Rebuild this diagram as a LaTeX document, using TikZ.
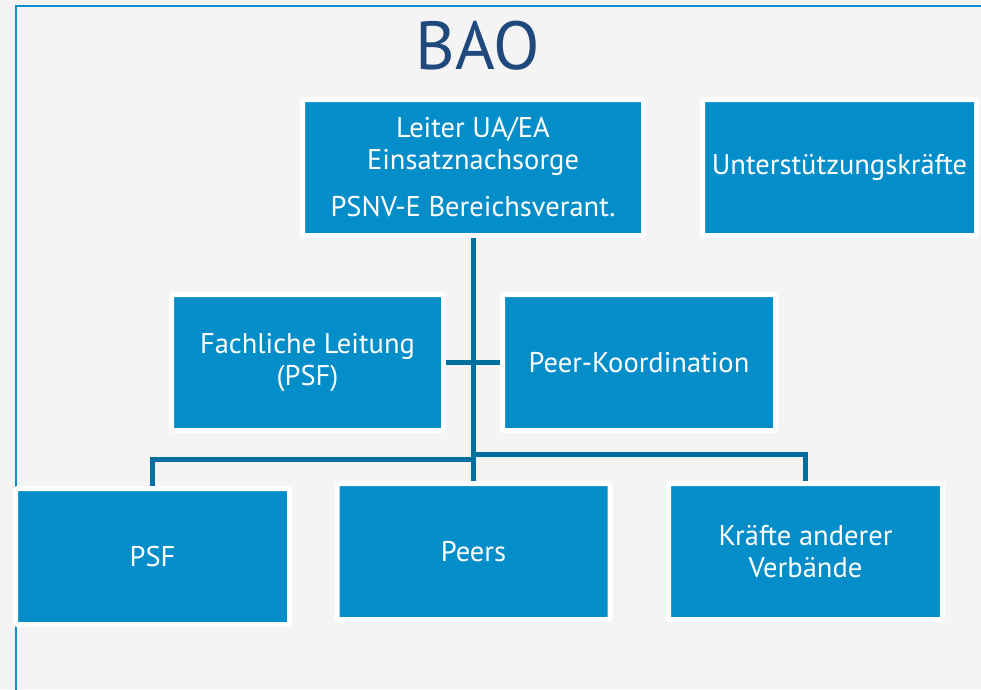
\documentclass[tikz,border=0pt]{standalone}
\usepackage{fontspec}
\setmainfont{PT Sans}
\definecolor{bg}{HTML}{F4F4F4}
\definecolor{boxblue}{HTML}{038DC9}
\definecolor{linkblue}{HTML}{0070A0}
\definecolor{titleblue}{HTML}{1F497D}
\definecolor{framecol}{HTML}{0A90D2}
\begin{document}
\begin{tikzpicture}[x=1pt,y=-1pt,
  orgbox/.style={draw=white, line width=5pt, fill=boxblue, rounded corners=2pt,
    text=white, align=center, inner sep=0pt, font=\fontsize{28.5}{32}\selectfont},
  link/.style={draw=linkblue, line width=5pt, line join=miter}]
\useasboundingbox (0,0) rectangle (981,689);
\fill[bg] (0,0) rectangle (981,689);
\begin{scope}
\clip (0,0) rectangle (981,689);
\draw[framecol, line width=2.8pt] (16,700) -- (16,6) -- (990,6);
\end{scope}
\node[text=titleblue, font=\fontsize{68}{70}\selectfont, inner sep=0pt] (title) at (478,46) {BAO};
\node[orgbox, minimum width=341pt, minimum height=136pt] (top) at (473,167.5)
  {Leiter UA/EA\\Einsatznachsorge\\[15pt]PSNV-E Bereichsverant.};
\node[orgbox, minimum width=274pt, minimum height=136pt] (unt) at (839.5,167.5) {Unterstützungskräfte};
\node[orgbox, minimum width=272pt, minimum height=136pt] (fach) at (307.5,362.5) {Fachliche Leitung\\(PSF)};
\node[orgbox, minimum width=273pt, minimum height=136pt] (peerk) at (639,362.5) {Peer-Koordination};
\node[orgbox, minimum width=274pt, minimum height=136pt] (psf) at (152.5,556.5) {PSF};
\node[orgbox, minimum width=273pt, minimum height=136pt] (peers) at (473.5,551.5) {Peers};
\node[orgbox, minimum width=274pt, minimum height=136pt] (kr) at (805.5,551.5) {Kräfte anderer\\Verbände};
\coordinate (busL) at (473.5,459.5);
\coordinate (busR) at (473.5,454.5);
\draw[link] (fach.east) -- (peerk.west);
\draw[link] (top.south) -- (top.south |- peers.north);
\draw[link] (psf.north) |- (busL);
\draw[link] (kr.north) |- (busR);
\end{tikzpicture}
\end{document}
